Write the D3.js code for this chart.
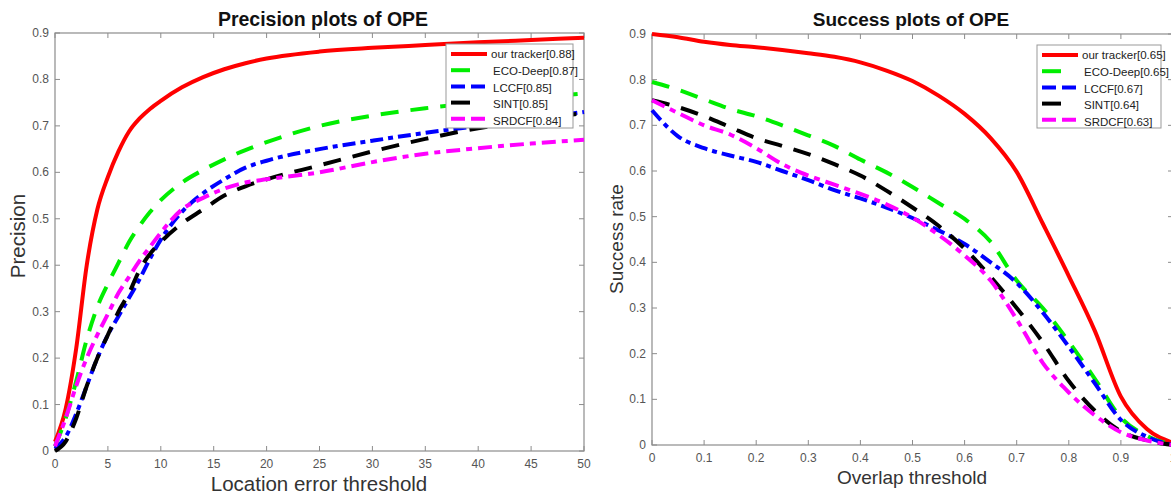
<!DOCTYPE html>
<html>
<head>
<meta charset="utf-8">
<script src="https://cdn.jsdelivr.net/npm/d3@7"></script>
<style>
  body { margin: 0; background: #fff; }
  svg { font-family: "Liberation Sans", Arial, sans-serif; }
</style>
</head>
<body>
<div id="chart"></div>
<script>
// precision plot data (location error threshold 0..50)
var precX = [0, 1, 2, 3, 4, 5, 6, 7, 8, 9, 10, 12, 14, 16, 18, 20, 25, 30, 35, 40, 45, 50];
var precOur   = [0.02, 0.09, 0.22, 0.40, 0.52, 0.59, 0.645, 0.688, 0.716, 0.737, 0.754, 0.783, 0.805, 0.822, 0.835, 0.845, 0.86, 0.868, 0.874, 0.88, 0.885, 0.89];
var precECO   = [0.01, 0.07, 0.15, 0.24, 0.31, 0.36, 0.405, 0.45, 0.485, 0.515, 0.54, 0.578, 0.605, 0.628, 0.648, 0.665, 0.70, 0.722, 0.738, 0.75, 0.76, 0.77];
var precLCCF  = [0.005, 0.03, 0.08, 0.14, 0.20, 0.25, 0.29, 0.33, 0.37, 0.415, 0.455, 0.515, 0.555, 0.585, 0.61, 0.625, 0.65, 0.668, 0.685, 0.70, 0.715, 0.73];
var precSINT  = [0.0, 0.02, 0.07, 0.14, 0.20, 0.25, 0.30, 0.34, 0.39, 0.425, 0.45, 0.49, 0.52, 0.55, 0.57, 0.585, 0.615, 0.645, 0.672, 0.695, 0.712, 0.728];
var precSRDCF = [0.01, 0.07, 0.14, 0.20, 0.25, 0.295, 0.34, 0.375, 0.41, 0.44, 0.47, 0.52, 0.545, 0.565, 0.578, 0.585, 0.60, 0.622, 0.64, 0.652, 0.662, 0.67];
var precLabels = ["our tracker[0.88]", "ECO-Deep[0.87]", "LCCF[0.85]", "SINT[0.85]", "SRDCF[0.84]"];

// success plot data (overlap threshold 0..1)
var succX = [0, 0.05, 0.1, 0.15, 0.2, 0.25, 0.3, 0.35, 0.4, 0.45, 0.5, 0.55, 0.6, 0.65, 0.7, 0.75, 0.8, 0.85, 0.9, 0.95, 1.0];
var succOur   = [0.9, 0.893, 0.883, 0.876, 0.871, 0.865, 0.858, 0.85, 0.838, 0.82, 0.797, 0.765, 0.725, 0.672, 0.598, 0.485, 0.37, 0.25, 0.106, 0.035, 0.005];
var succECO   = [0.795, 0.778, 0.757, 0.736, 0.72, 0.70, 0.678, 0.655, 0.625, 0.597, 0.565, 0.53, 0.495, 0.445, 0.36, 0.30, 0.226, 0.145, 0.06, 0.02, 0.0];
var succLCCF  = [0.733, 0.676, 0.65, 0.634, 0.62, 0.60, 0.58, 0.558, 0.54, 0.52, 0.497, 0.47, 0.44, 0.40, 0.355, 0.29, 0.215, 0.135, 0.055, 0.018, 0.0];
var succSINT  = [0.755, 0.74, 0.72, 0.696, 0.672, 0.655, 0.637, 0.615, 0.59, 0.557, 0.52, 0.48, 0.43, 0.368, 0.30, 0.225, 0.14, 0.075, 0.03, 0.01, 0.0];
var succSRDCF = [0.755, 0.727, 0.70, 0.68, 0.65, 0.615, 0.59, 0.57, 0.55, 0.527, 0.498, 0.46, 0.415, 0.36, 0.275, 0.18, 0.115, 0.065, 0.028, 0.01, 0.0];
var succLabels = ["our tracker[0.65]", "ECO-Deep[0.65]", "LCCF[0.67]", "SINT[0.64]", "SRDCF[0.63]"];

var yTicks = [0, 0.1, 0.2, 0.3, 0.4, 0.5, 0.6, 0.7, 0.8, 0.9];
var precTicks = [0, 5, 10, 15, 20, 25, 30, 35, 40, 45, 50];
var succTicks = [0, 0.1, 0.2, 0.3, 0.4, 0.5, 0.6, 0.7, 0.8, 0.9, 1];

// line styles for the five trackers
var styles = [
  { color: "#ff0000", dash: null },
  { color: "#00ee00", dash: "18,12" },
  { color: "#0000ff", dash: "13,5,5,5" },
  { color: "#000000", dash: "18,12" },
  { color: "#ff00ff", dash: "14,6,6,6" }
];

var svg = d3.select("#chart").append("svg")
  .attr("width", 1171).attr("height", 494);

function drawPlot(opt)
{
  var x = d3.scaleLinear().domain(opt.xDomain).range([opt.left, opt.right]);
  var y = d3.scaleLinear().domain([0, 0.9]).range([opt.bottom, opt.top]);
  var g = svg.append("g");

  // box
  g.append("rect")
    .attr("x", opt.left).attr("y", opt.top)
    .attr("width", opt.right - opt.left).attr("height", opt.bottom - opt.top)
    .attr("fill", "none").attr("stroke", "#8c8c8c").attr("stroke-width", 1.2);

  // ticks (inward, mirrored)
  opt.xTicks.forEach(function(t) {
    g.append("line").attr("x1", x(t)).attr("x2", x(t))
      .attr("y1", opt.bottom).attr("y2", opt.bottom - 5)
      .attr("stroke", "#8c8c8c");
    g.append("line").attr("x1", x(t)).attr("x2", x(t))
      .attr("y1", opt.top).attr("y2", opt.top + 5)
      .attr("stroke", "#8c8c8c");
    g.append("text").attr("x", x(t)).attr("y", opt.bottom + 17)
      .attr("text-anchor", "middle").attr("font-size", 12).attr("fill", "#555")
      .text(t);
  });
  yTicks.forEach(function(t) {
    g.append("line").attr("x1", opt.left).attr("x2", opt.left + 5)
      .attr("y1", y(t)).attr("y2", y(t)).attr("stroke", "#8c8c8c");
    g.append("line").attr("x1", opt.right).attr("x2", opt.right - 5)
      .attr("y1", y(t)).attr("y2", y(t)).attr("stroke", "#8c8c8c");
    g.append("text").attr("x", opt.left - 6).attr("y", y(t) + 4)
      .attr("text-anchor", "end").attr("font-size", 12).attr("fill", "#555")
      .text(t);
  });

  // curves
  var line = d3.line()
    .x(function(d) { return x(d[0]); })
    .y(function(d) { return y(d[1]); })
    .curve(d3.curveMonotoneX);
  opt.series.forEach(function(s, i) {
    var pts = opt.xs.map(function(v, j) { return [v, s[j]]; });
    g.append("path").attr("d", line(pts))
      .attr("fill", "none")
      .attr("stroke", styles[i].color)
      .attr("stroke-width", 4)
      .attr("stroke-dasharray", styles[i].dash);
  });

  // title and axis labels
  g.append("text").attr("x", opt.titleX).attr("y", 26)
    .attr("text-anchor", "middle").attr("font-size", opt.titleSize).attr("font-weight", "bold")
    .attr("fill", "#111").text(opt.title);
  g.append("text").attr("x", opt.xLabelX).attr("y", opt.xLabelY)
    .attr("text-anchor", "middle").attr("font-size", opt.labelSize).attr("fill", "#333")
    .text(opt.xLabel);
  g.append("text")
    .attr("transform", "translate(" + opt.yLabelX + "," + opt.yLabelY + ") rotate(-90)")
    .attr("text-anchor", "middle").attr("font-size", opt.labelSize).attr("fill", "#333")
    .text(opt.yLabel);

  // legend
  var lg = opt.legend;
  g.append("rect").attr("x", lg.x).attr("y", lg.y)
    .attr("width", lg.w).attr("height", lg.h)
    .attr("fill", "#fff").attr("stroke", "#999").attr("stroke-width", 1);
  opt.labels.forEach(function(lab, i) {
    var ly = lg.y + 10 + i * 16.2;
    g.append("line").attr("x1", lg.x + 5).attr("x2", lg.x + 41)
      .attr("y1", ly).attr("y2", ly)
      .attr("stroke", styles[i].color).attr("stroke-width", 4)
      .attr("stroke-dasharray", i == 0 ? null : (i == 1 || i == 3 ? "19,40" : "14,6"));
    g.append("text").attr("x", lg.x + 45 + (i == 0 ? 0 : 2)).attr("y", lg.y + 14 + i * 16.8)
      .attr("font-size", 11.5).attr("fill", "#222").text(lab);
  });
}

drawPlot({
  left: 55, right: 584, top: 33, bottom: 451,
  xDomain: [0, 50], xTicks: precTicks, xs: precX,
  series: [precOur, precECO, precLCCF, precSINT, precSRDCF],
  labels: precLabels,
  title: "Precision plots of OPE", titleX: 323, titleSize: 19.5,
  xLabel: "Location error threshold", xLabelX: 319, xLabelY: 491,
  yLabel: "Precision", yLabelX: 25, yLabelY: 236, labelSize: 20.5,
  legend: { x: 446, y: 44, w: 127, h: 84 }
});

drawPlot({
  left: 652, right: 1173, top: 34, bottom: 445,
  xDomain: [0, 1], xTicks: succTicks, xs: succX,
  series: [succOur, succECO, succLCCF, succSINT, succSRDCF],
  labels: succLabels,
  title: "Success plots of OPE", titleX: 911, titleSize: 19,
  xLabel: "Overlap threshold", xLabelX: 912, xLabelY: 484,
  yLabel: "Success rate", yLabelX: 623, yLabelY: 239, labelSize: 19,
  legend: { x: 1037, y: 45, w: 124, h: 83 }
});
</script>
</body>
</html>
